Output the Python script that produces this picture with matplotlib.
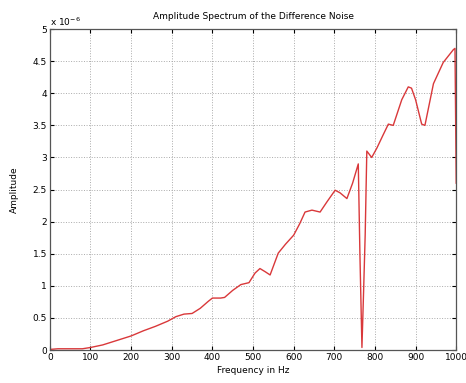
import matplotlib
matplotlib.use("Agg")
import matplotlib.pyplot as plt
from matplotlib.ticker import FuncFormatter

freq = [0, 20, 50, 80, 100, 130, 160, 200, 230, 260, 290, 310, 330, 350, 370, 390, 400,
        420, 430, 450, 470, 490, 505, 517, 530, 542, 562, 580, 600, 615, 628, 645, 665,
        682, 702, 714, 731, 745, 759, 763, 768, 772, 776, 780, 792, 805, 820, 833, 845,
        866, 882, 890, 900, 915, 923, 944, 968, 993, 997, 1000]
amp = [0.01, 0.02, 0.02, 0.02, 0.04, 0.08, 0.14, 0.22, 0.30, 0.37, 0.45, 0.52, 0.56, 0.57,
       0.65, 0.76, 0.81, 0.81, 0.82, 0.93, 1.02, 1.05, 1.20, 1.27, 1.22, 1.17, 1.51, 1.65,
       1.79, 1.97, 2.15, 2.18, 2.15, 2.31, 2.49, 2.45, 2.36, 2.60, 2.90, 1.50, 0.04, 0.90,
       1.80, 3.10, 3.00, 3.15, 3.35, 3.52, 3.50, 3.90, 4.10, 4.08, 3.90, 3.52, 3.50, 4.15,
       4.48, 4.68, 4.70, 2.60]  # in units of 1e-6

xticks = list(range(0, 1001, 100))
yticks = [0, 0.5, 1, 1.5, 2, 2.5, 3, 3.5, 4, 4.5, 5]

fig = plt.figure(figsize=(4.66, 3.83), dpi=100)
ax = fig.add_axes([0.107, 0.086, 0.872, 0.838])
ax.plot(freq, amp, color="#d9383a", lw=1.0)
ax.set_xlim(0, 1000)
ax.set_ylim(0, 5)
ax.set_xticks(xticks)
ax.set_yticks(yticks)
ax.yaxis.set_major_formatter(FuncFormatter(lambda v, p: f"{v:g}"))
ax.tick_params(direction="in", labelsize=6.5, length=3, top=True, right=True, pad=2)
ax.grid(True, linestyle=":", color="#aaaaaa", lw=0.7)
for s in ax.spines.values():
    s.set_color("#555555")
    s.set_linewidth(0.9)
ax.set_title("Amplitude Spectrum of the Difference Noise", fontsize=6.5, pad=7)
ax.set_xlabel("Frequency in Hz", fontsize=6.5, labelpad=3)
ax.set_ylabel("Amplitude", fontsize=6.5, labelpad=10)
ax.text(0.0, 1.005, "x 10$^{-6}$", transform=ax.transAxes, fontsize=6.5, va="bottom", ha="left")
fig.savefig("out.png", dpi=100)
